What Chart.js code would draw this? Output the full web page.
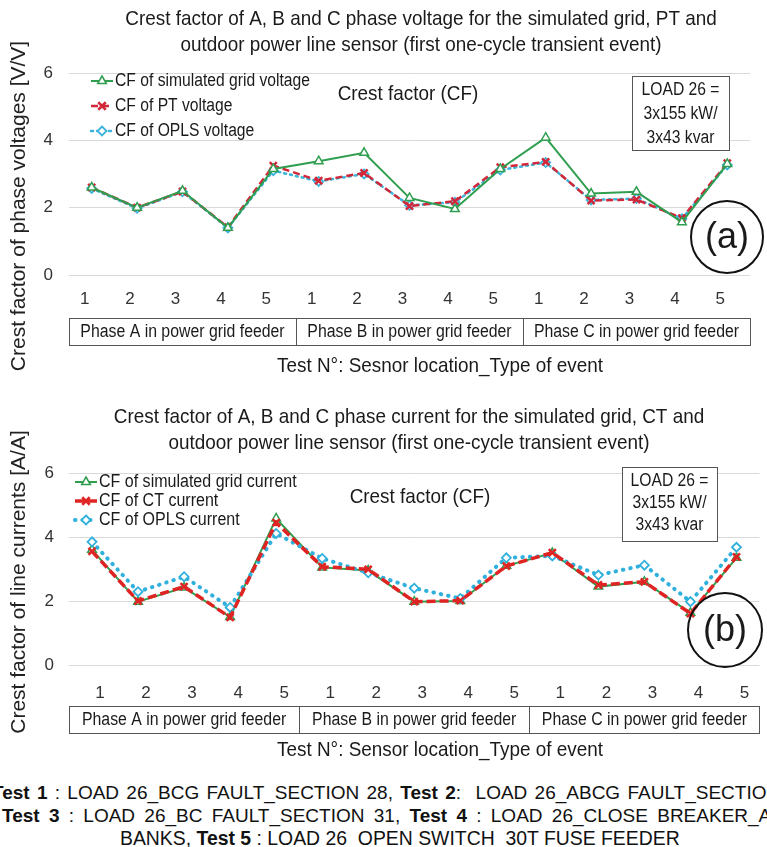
<!DOCTYPE html>
<html>
<head>
<meta charset="utf-8">
<script src="https://cdn.jsdelivr.net/npm/chart.js@4.4.1/dist/chart.umd.min.js"></script>
<style>
  body { margin: 0; background: #fff; width: 767px; height: 847px; overflow: hidden; position: relative; font-family: 'Liberation Sans', Arial, sans-serif; }
  canvas { position: absolute; left: 0; }
  #cv { top: 0; }
  #ci { top: 380px; }
  .foot { position: absolute; white-space: nowrap; font-size: 19px; line-height: 22px; color: #111; }
</style>
</head>
<body>
<canvas id="cv" width="767" height="380"></canvas>
<canvas id="ci" width="767" height="400"></canvas>
<div class="foot" style="left:-8px;top:782px;word-spacing:2px"><b>Test 1</b> : LOAD 26_BCG FAULT_SECTION 28, <b>Test 2</b>:&nbsp; LOAD 26_ABCG FAULT_SECTION 29,</div>
<div class="foot" style="left:2px;top:805px;word-spacing:4px"><b>Test 3</b> : LOAD 26_BC FAULT_SECTION 31, <b>Test 4</b> : LOAD 26_CLOSE BREAKER_ALL CAP</div>
<div class="foot" style="left:120px;top:827px;font-size:19.4px">BANKS, <b>Test 5</b> : LOAD 26_OPEN SWITCH_30T FUSE FEEDER</div>
<script>
const tests = ['1', '2', '3', '4', '5', '1', '2', '3', '4', '5', '1', '2', '3', '4', '5'];
const phases = ['Phase A in power grid feeder', 'Phase B in power grid feeder', 'Phase C in power grid feeder'];

// voltage crest factors
const simV  = [2.6, 2.0, 2.5, 1.4, 3.15, 3.38, 3.63, 2.29, 1.96, 3.15, 4.08, 2.42, 2.47, 1.57, 3.3];
const ptV   = [2.6, 2.0, 2.48, 1.42, 3.25, 2.8, 3.03, 2.05, 2.19, 3.2, 3.36, 2.21, 2.24, 1.69, 3.32];
const oplsV = [2.57, 1.98, 2.47, 1.4, 3.1, 2.78, 3.0, 2.07, 2.16, 3.12, 3.34, 2.23, 2.27, 1.67, 3.27];

// current crest factors
const simI  = [3.6, 1.98, 2.42, 1.5, 4.58, 3.05, 2.95, 1.98, 2.0, 3.1, 3.5, 2.45, 2.6, 1.63, 3.35];
const ctI   = [3.55, 2.0, 2.45, 1.49, 4.45, 3.07, 2.99, 1.98, 2.01, 3.09, 3.51, 2.5, 2.6, 1.61, 3.38];
const oplsI = [3.85, 2.29, 2.76, 1.8, 4.11, 3.33, 2.88, 2.4, 2.08, 3.35, 3.41, 2.81, 3.12, 1.98, 3.68];

const REG = "'Liberation Sans', Arial, sans-serif";
const GREEN = '#2f9e4f', RED = '#d0283a', BLUE = '#3ab4da';

// condensed text (the original uses a narrow face)
function ntext(ctx, text, x, y, size, k) {
  ctx.save();
  ctx.translate(x, y);
  ctx.scale(k, 1);
  ctx.font = size + 'px ' + REG;
  ctx.fillText(text, 0, 0);
  ctx.restore();
}

function marker(ctx, style, x, y, r, color, fill, lw) {
  ctx.save();
  ctx.setLineDash([]);
  ctx.strokeStyle = color; ctx.fillStyle = fill; ctx.lineWidth = lw;
  ctx.beginPath();
  if (style === 'triangle') {
    ctx.moveTo(x, y - r); ctx.lineTo(x + r * 0.87, y + r * 0.5); ctx.lineTo(x - r * 0.87, y + r * 0.5); ctx.closePath();
    ctx.fill(); ctx.stroke();
  } else if (style === 'rectRot') {
    ctx.moveTo(x, y - r); ctx.lineTo(x + r, y); ctx.lineTo(x, y + r); ctx.lineTo(x - r, y); ctx.closePath();
    ctx.fill(); ctx.stroke();
  } else {
    const d = r * 0.75;
    ctx.moveTo(x - d, y - d); ctx.lineTo(x + d, y + d); ctx.moveTo(x + d, y - d); ctx.lineTo(x - d, y + d);
    ctx.stroke();
  }
  ctx.restore();
}

const decor = {
  id: 'decor',
  afterDraw(chart, args, o) {
    const ctx = chart.ctx;
    const xs = chart.scales.x;
    ctx.save();
    ctx.fillStyle = '#1a1a1a';
    ctx.textAlign = 'center';
    ctx.textBaseline = 'middle';
    o.title.forEach((t, i) => ntext(ctx, t, o.titleX, o.titleY + i * 26, 21, 0.9));

    // y axis title
    ctx.save();
    ctx.translate(o.yTitle.x, o.yTitle.y);
    ctx.rotate(-Math.PI / 2);
    ctx.font = '21px ' + REG;
    ctx.fillStyle = '#222';
    ctx.fillText(o.yTitle.text, 0, 0);
    ctx.restore();

    // legend
    chart.data.datasets.forEach((ds, i) => {
      const y = o.legend.y + i * o.legend.gap;
      const x0 = o.legend.x, x1 = o.legend.x + 22;
      ctx.save();
      ctx.strokeStyle = ds.borderColor; ctx.lineWidth = ds.borderWidth;
      ctx.setLineDash(ds.borderDash || []);
      ctx.lineCap = ds.borderCapStyle || 'butt';
      ctx.beginPath(); ctx.moveTo(x0, y); ctx.lineTo(x1, y); ctx.stroke();
      ctx.restore();
      marker(ctx, ds.pointStyle, (x0 + x1) / 2, y, ds.pointRadius, ds.pointBorderColor, ds.pointBackgroundColor, ds.pointBorderWidth);
      ctx.fillStyle = '#1a1a1a';
      ctx.textAlign = 'left';
      ntext(ctx, ds.label, x1 + 2, y, 18, o.legend.k);
    });

    // inner label
    ctx.textAlign = 'center';
    ntext(ctx, 'Crest factor (CF)', o.cf.x, o.cf.y, 21, 0.9);

    // load box
    const b = o.load;
    ctx.fillStyle = '#fff';
    ctx.fillRect(b.x, b.y, b.w, b.h);
    ctx.strokeStyle = '#555'; ctx.lineWidth = 1;
    ctx.strokeRect(b.x + 0.5, b.y + 0.5, b.w, b.h);
    ctx.fillStyle = '#1a1a1a';
    ['LOAD 26 =', '3x155 kW/', '3x43 kvar'].forEach((t, i) => ntext(ctx, t, b.x + b.w / 2, b.y + 14 + i * b.lh, 18, 0.87));

    // panel mark
    ctx.strokeStyle = '#111'; ctx.lineWidth = 2;
    ctx.beginPath(); ctx.ellipse(o.mark.x, o.mark.y, o.mark.r, o.mark.r, 0, 0, Math.PI * 2); ctx.stroke();
    ctx.font = '36px ' + REG;
    ctx.fillText(o.mark.text, o.mark.x, o.mark.y + 1);

    // phase boxes under the ticks
    const cw = (xs.right - xs.left) / tests.length;
    ctx.strokeStyle = '#555'; ctx.lineWidth = 1;
    phases.forEach((p, g) => {
      const l = xs.left + g * 5 * cw, r = l + 5 * cw;
      ctx.strokeRect(Math.round(l) + 0.5, o.box.y + 0.5, Math.round(r - l), o.box.h);
      ntext(ctx, p, (l + r) / 2, o.box.y + o.box.h / 2 + 1, 18, 0.88);
    });

    ntext(ctx, o.xTitle.text, o.xTitle.x, o.xTitle.y, 21, 0.9);
    ctx.restore();
  }
};

function ds(label, data, color, kind, big) {
  const d = {
    label, data, borderColor: color, backgroundColor: color, tension: 0,
    pointBorderColor: color, pointHoverRadius: 5
  };
  if (kind === 'solid') {
    Object.assign(d, { order: big ? 2 : 0, borderWidth: 2, pointStyle: 'triangle', pointRadius: 5, pointBackgroundColor: '#fff', pointBorderWidth: 1.5 });
  } else if (kind === 'dash') {
    Object.assign(d, { order: big ? 0 : 1, borderWidth: big ? 3.5 : 2.5, borderDash: big ? [9, 4] : [7, 4], pointStyle: 'crossRot', pointRadius: 5, pointBackgroundColor: color, pointBorderWidth: 2.5 });
  } else {
    Object.assign(d, { order: big ? 1 : 2, borderWidth: big ? 4 : 2.5, borderDash: big ? [0.5, 7] : [2, 4], borderCapStyle: 'round', pointStyle: 'rectRot', pointRadius: 4.5, pointBackgroundColor: '#fff', pointBorderWidth: 1.8 });
  }
  return d;
}

function makeChart(id, sets, pad, tickPad, labelOffset, deco) {
  return new Chart(document.getElementById(id), {
    type: 'line',
    data: { labels: tests, datasets: sets },
    options: {
      responsive: false,
      animation: false,
      devicePixelRatio: 1,
      layout: { padding: pad },
      plugins: { legend: { display: false }, title: { display: false }, tooltip: { enabled: false }, decor: deco },
      scales: {
        x: {
          offset: true,
          grid: { display: false },
          border: { display: false },
          ticks: { autoSkip: false, maxRotation: 0, padding: tickPad.x, labelOffset, color: '#333', font: { family: REG, size: 17 } },
          afterFit: s => { s.height = 40; }
        },
        y: {
          min: 0, max: 6,
          grid: { color: '#d9d9d9', drawTicks: false },
          border: { display: false },
          ticks: { stepSize: 2, padding: tickPad.y, color: '#333', font: { family: REG, size: 17 } },
          afterFit: s => { s.width = 69; }
        }
      }
    },
    plugins: [decor]
  });
}

makeChart('cv', [
  ds('CF of simulated grid voltage', simV, GREEN, 'solid'),
  ds('CF of PT voltage', ptV, RED, 'dash'),
  ds('CF of OPLS voltage', oplsV, BLUE, 'dot')
], { top: 73, left: 0, right: 17, bottom: 65 }, { x: 6, y: 16 }, -7, {
  title: ['Crest factor of A, B and C phase voltage for the simulated grid, PT and',
          'outdoor power line sensor (first one-cycle transient event)'],
  titleX: 421, titleY: 19,
  yTitle: { text: 'Crest factor of phase voltages [V/V]', x: 19, y: 206 },
  legend: { x: 91, y: 81, gap: 25, k: 0.87 },
  cf: { x: 408, y: 94 },
  load: { x: 632, y: 76, w: 97, h: 74, lh: 24 },
  mark: { x: 727, y: 237, r: 36, text: '(a)' },
  box: { y: 318, h: 27 },
  xTitle: { text: 'Test N°: Sesnor location_Type of event', x: 440, y: 366 }
});

makeChart('ci', [
  ds('CF of simulated grid current', simI, GREEN, 'solid', true),
  ds('CF of CT current', ctI, '#e02424', 'dash', true),
  ds('CF of OPLS current', oplsI, '#2fb0dd', 'dot', true)
], { top: 93, left: 0, right: 7, bottom: 75 }, { x: 10, y: 15 }, 8, {
  title: ['Crest factor of A, B and C phase current for the simulated grid, CT and',
          'outdoor power line sensor (first one-cycle transient event)'],
  titleX: 409, titleY: 37,
  yTitle: { text: 'Crest factor of line currents [A/A]', x: 19, y: 202 },
  legend: { x: 75, y: 102, gap: 19, k: 0.89 },
  cf: { x: 420, y: 117 },
  load: { x: 622, y: 87, w: 95, h: 74, lh: 22 },
  mark: { x: 725, y: 250, r: 37, text: '(b)' },
  box: { y: 326, h: 27 },
  xTitle: { text: 'Test N°: Sensor location_Type of event', x: 440, y: 370 }
});
</script>
</body>
</html>
